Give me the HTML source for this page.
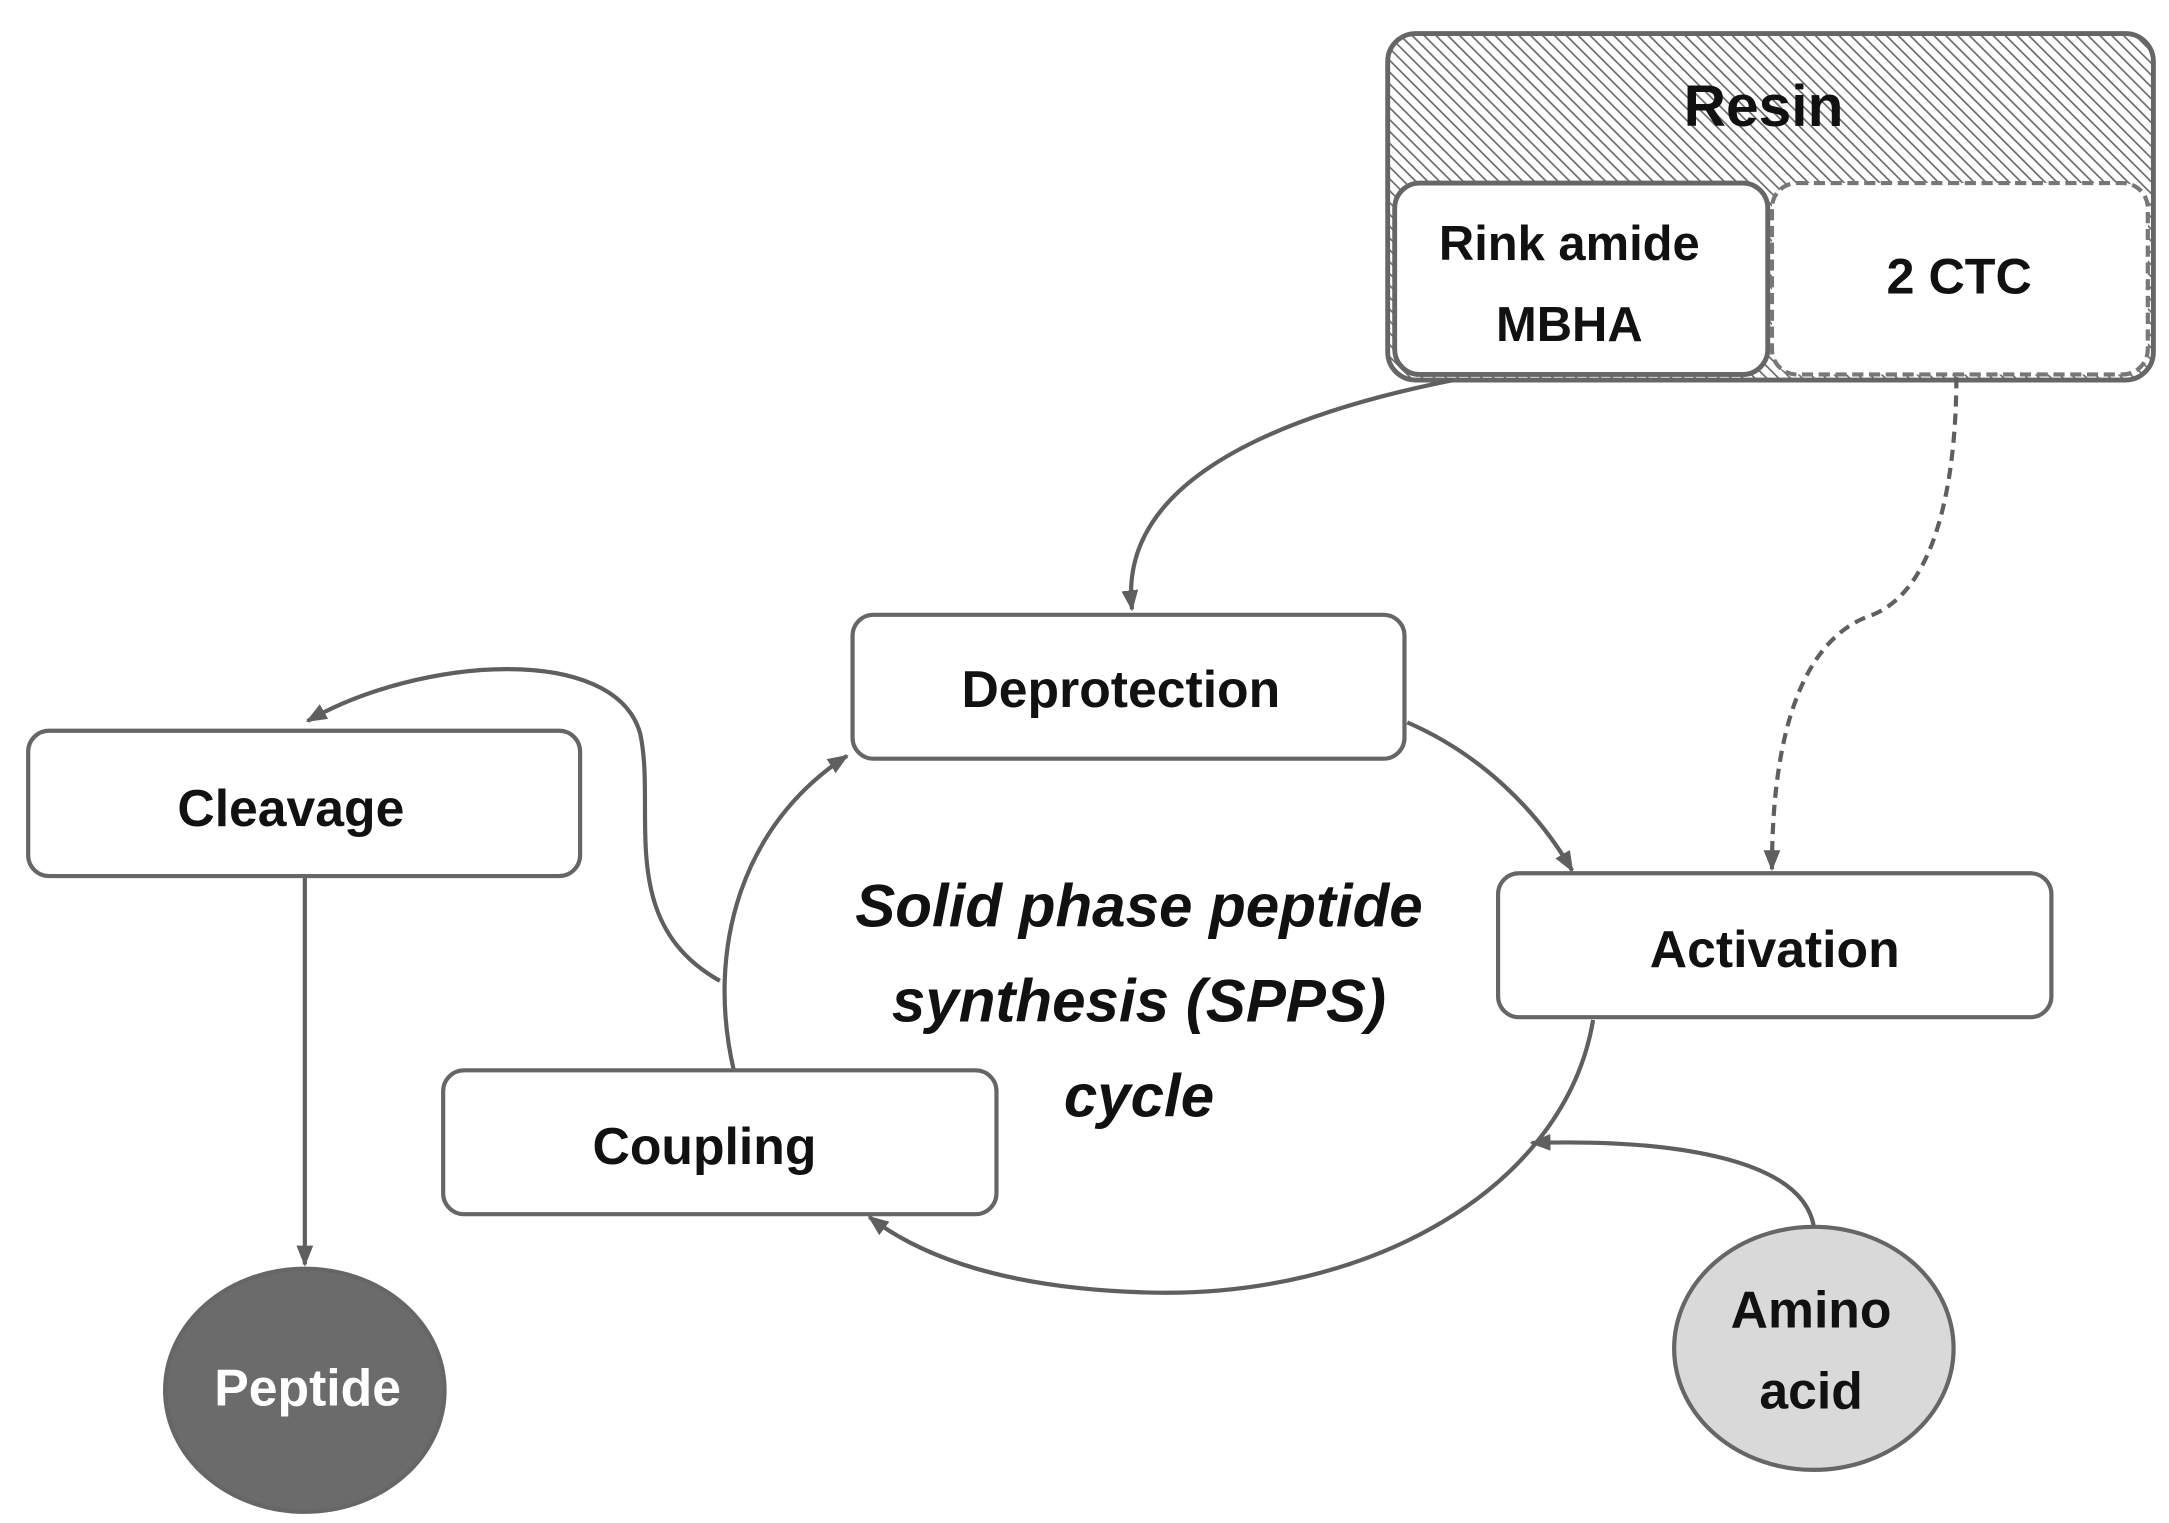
<!DOCTYPE html>
<html><head><meta charset="utf-8"><style>
html,body{margin:0;padding:0;background:#fff;}
svg{display:block;}
text{font-family:"Liberation Sans",sans-serif;font-weight:bold;fill:#111;}
</style></head><body>
<svg width="2169" height="1523" viewBox="0 0 1552 1090" xmlns="http://www.w3.org/2000/svg">
<defs>
<pattern id="h" patternUnits="userSpaceOnUse" width="6" height="6" patternTransform="rotate(-45)">
<rect width="6" height="6" fill="#fff"/><line x1="0" y1="0" x2="0" y2="6" stroke="#6a6a6a" stroke-width="2.4"/>
</pattern>
<marker id="a" viewBox="0 0 10 10" refX="9" refY="5" markerWidth="5" markerHeight="5" orient="auto" markerUnits="strokeWidth">
<path d="M0,1 L10,5 L0,9 z" fill="#5f5f5f"/>
</marker>
</defs>
<rect x="993" y="24" width="548" height="248" rx="20" fill="url(#h)" stroke="#666" stroke-width="3.5"/>
<text x="1262" y="90" font-size="42" text-anchor="middle">Resin</text>
<rect x="998" y="131" width="267" height="137" rx="18" fill="#fff" stroke="#666" stroke-width="3.5"/>
<text x="1123" y="186" font-size="35" text-anchor="middle">Rink amide</text>
<text x="1123" y="244" font-size="35" text-anchor="middle">MBHA</text>
<rect x="1268" y="131" width="269" height="137" rx="18" fill="#fff" stroke="#777" stroke-width="3" stroke-dasharray="8,4"/>
<text x="1402" y="210" font-size="36" text-anchor="middle">2 CTC</text>

<g fill="none" stroke="#5f5f5f" stroke-width="3">
<path d="M525,766 C505,680 530,590 606,541" marker-end="url(#a)"/>
<path d="M1007,517 C1060,540 1100,580 1125,623" marker-end="url(#a)"/>
<path d="M1140,730 C1120,850 980,930 820,925 C720,922 660,900 622,871" marker-end="url(#a)"/>
<path d="M1298,878 C1290,830 1200,815 1096,818" marker-end="url(#a)"/>
<path d="M515,702 C440,660 470,580 458,525 C440,460 300,470 220,516" marker-end="url(#a)"/>
<path d="M218,627 L218,905" marker-end="url(#a)"/>
<path d="M1040,272 C900,300 800,350 810,436" marker-end="url(#a)"/>
<path d="M1400,270 C1400,330 1390,420 1340,440 C1280,460 1268,550 1268,622" stroke-dasharray="8,5" marker-end="url(#a)"/>
</g>

<g fill="#fff" stroke="#666" stroke-width="3">
<rect x="610" y="440" width="395" height="103" rx="15"/>
<rect x="20" y="523" width="395" height="104" rx="15"/>
<rect x="1072" y="625" width="396" height="103" rx="15"/>
<rect x="317" y="766" width="396" height="103" rx="15"/>
<ellipse cx="218" cy="995" rx="100" ry="87" fill="#6b6b6b"/>
<ellipse cx="1298" cy="965" rx="100" ry="87" fill="#d9d9d9"/>
</g>
<text x="802" y="506" font-size="37" text-anchor="middle">Deprotection</text>
<text x="208" y="591" font-size="37" text-anchor="middle">Cleavage</text>
<text x="1270" y="692" font-size="37" text-anchor="middle">Activation</text>
<text x="504" y="833" font-size="37" text-anchor="middle">Coupling</text>
<text x="220" y="1006" font-size="37" text-anchor="middle" style="fill:#fff">Peptide</text>
<text x="1296" y="950" font-size="37" text-anchor="middle">Amino</text>
<text x="1296" y="1008" font-size="37" text-anchor="middle">acid</text>
<g font-style="italic" font-size="43" text-anchor="middle">
<text x="815" y="663">Solid phase peptide</text>
<text x="815" y="731">synthesis (SPPS)</text>
<text x="815" y="799">cycle</text>
</g>
</svg>
</body></html>
